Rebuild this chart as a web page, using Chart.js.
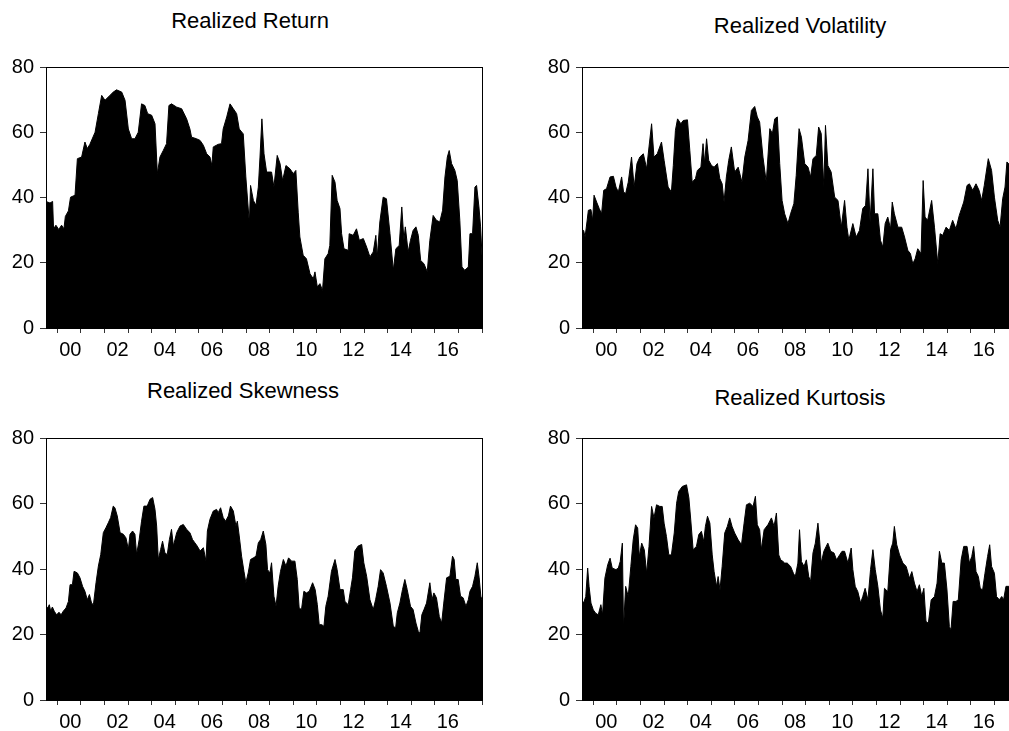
<!DOCTYPE html>
<html>
<head>
<meta charset="utf-8">
<script src="https://cdn.jsdelivr.net/npm/chart.js@4.4.1/dist/chart.umd.min.js"></script>
<style>
html, body { margin: 0; padding: 0; background: #fff; overflow: hidden; }
#page { position: relative; width: 1009px; height: 731px; overflow: hidden; }
canvas { position: absolute; }
.title {
    position: absolute; width: 400px; margin-left: -200px; text-align: center;
    font: 22px/22px "Liberation Sans", Arial, sans-serif; color: #000; white-space: nowrap;
}
</style>
</head>
<body>
<div id="page">
    <div class="title" style="left:250px;top:10px">Realized Return</div>
    <div class="title" style="left:800px;top:15px">Realized Volatility</div>
    <div class="title" style="left:243px;top:380px">Realized Skewness</div>
    <div class="title" style="left:800px;top:387px">Realized Kurtosis</div>
    <canvas id="chartReturn" width="500" height="330" style="left:0;top:40px"></canvas>
    <canvas id="chartVol" width="540" height="330" style="left:505px;top:40px"></canvas>
    <canvas id="chartSkew" width="500" height="330" style="left:0;top:411px"></canvas>
    <canvas id="chartKurt" width="540" height="330" style="left:505px;top:411px"></canvas>
</div>
<script>
// x axis: decimal years, ticks at the start of each year, labels on even years
const tickYears = [2000, 2001, 2002, 2003, 2004, 2005, 2006, 2007, 2008, 2009, 2010, 2011, 2012, 2013, 2014, 2015, 2016, 2017, 2018];
const tickLabels = ['00', '', '02', '', '04', '', '06', '', '08', '', '10', '', '12', '', '14', '', '16', '', ''];
const yTicks = [0, 20, 40, 60, 80];

const returnYears = [1999.52,1999.69,1999.80,1999.84,1999.94,2000.06,2000.18,2000.28,2000.34,2000.47,
    2000.56,2000.75,2000.85,2001.03,2001.17,2001.27,2001.38,2001.60,2001.74,2001.88,
    2002.02,2002.23,2002.37,2002.51,2002.73,2002.87,2003.01,2003.15,2003.29,2003.43,
    2003.57,2003.71,2003.83,2004.00,2004.14,2004.24,2004.35,2004.49,2004.63,2004.73,
    2004.84,2005.06,2005.27,2005.48,2005.62,2005.69,2005.90,2006.05,2006.19,2006.33,
    2006.47,2006.55,2006.61,2006.82,2006.96,2007.03,2007.18,2007.32,2007.46,2007.60,
    2007.71,2007.88,2007.99,2008.14,2008.19,2008.31,2008.42,2008.52,2008.59,2008.67,
    2008.76,2008.87,2009.08,2009.18,2009.32,2009.44,2009.55,2009.69,2009.86,2010.00,
    2010.11,2010.21,2010.28,2010.42,2010.56,2010.71,2010.85,2010.92,2011.02,2011.13,
    2011.24,2011.34,2011.48,2011.55,2011.65,2011.77,2011.86,2011.98,2012.05,2012.15,
    2012.33,2012.37,2012.54,2012.68,2012.80,2012.97,2013.11,2013.25,2013.39,2013.50,
    2013.56,2013.67,2013.81,2013.95,2014.10,2014.24,2014.35,2014.49,2014.60,2014.69,
    2014.75,2014.87,2014.97,2015.08,2015.20,2015.30,2015.40,2015.54,2015.68,2015.79,
    2015.93,2016.07,2016.21,2016.33,2016.43,2016.53,2016.61,2016.71,2016.85,2016.95,
    2017.06,2017.15,2017.27,2017.42,2017.49,2017.60,2017.70,2017.77,2017.87,2017.94,
    2018.00];
const returnValues = [38.8,38.3,38.8,30.4,31.5,30.2,31.5,30.4,34.2,35.9,
    40.1,40.7,51.9,52.4,57.0,55.0,56.3,60.0,65.7,71.3,
    69.8,71.3,72.3,73.0,72.3,69.8,61.0,58.0,58.0,60.0,
    68.7,68.2,65.7,65.2,62.6,47.3,52.4,54.4,56.5,68.2,
    68.7,67.7,67.2,64.1,61.0,58.5,58.0,57.5,56.0,53.4,
    52.4,49.8,55.5,56.3,56.5,61.0,64.7,68.7,67.2,65.7,
    61.0,59.5,46.3,32.0,43.7,39.1,37.6,43.2,52.4,64.1,
    53.4,47.8,47.8,43.2,52.9,50.4,45.2,49.8,48.8,47.3,
    48.3,35.5,27.9,22.3,21.2,16.6,15.1,17.2,12.6,13.6,
    11.5,21.2,22.8,25.3,46.8,44.7,39.1,36.6,28.9,24.3,
    23.8,28.9,28.4,30.4,26.9,27.4,24.8,21.8,23.3,28.4,
    21.8,32.5,40.1,39.6,28.9,17.7,24.3,25.3,37.1,26.9,
    31.0,23.3,26.9,29.9,31.0,28.4,20.7,19.7,17.2,26.9,
    34.5,33.0,32.5,36.1,46.3,52.4,54.4,50.4,48.3,45.2,
    33.0,18.7,17.7,18.7,28.9,28.9,43.2,43.7,37.1,31.0,
    22.3];

const volYears = [1999.51,1999.59,1999.65,1999.73,1999.79,1999.90,1999.97,2000.03,2000.14,2000.25,
    2000.35,2000.44,2000.56,2000.71,2000.85,2000.96,2001.06,2001.20,2001.28,2001.37,
    2001.48,2001.62,2001.73,2001.85,2001.97,2002.12,2002.26,2002.36,2002.47,2002.57,
    2002.71,2002.89,2003.00,2003.17,2003.31,2003.39,2003.48,2003.57,2003.71,2003.81,
    2003.99,2004.09,2004.19,2004.33,2004.41,2004.56,2004.65,2004.72,2004.80,2004.89,
    2005.01,2005.12,2005.26,2005.36,2005.46,2005.54,2005.64,2005.74,2005.85,2005.99,
    2006.14,2006.30,2006.42,2006.56,2006.70,2006.84,2006.95,2007.05,2007.19,2007.33,
    2007.48,2007.59,2007.69,2007.80,2007.90,2008.00,2008.11,2008.25,2008.36,2008.50,
    2008.60,2008.72,2008.82,2008.96,2009.10,2009.21,2009.31,2009.45,2009.55,2009.66,
    2009.77,2009.84,2009.94,2010.08,2010.23,2010.37,2010.51,2010.65,2010.75,2010.83,
    2011.00,2011.14,2011.28,2011.42,2011.54,2011.64,2011.73,2011.85,2011.92,2012.06,
    2012.17,2012.27,2012.37,2012.48,2012.60,2012.67,2012.76,2012.91,2013.07,2013.19,
    2013.33,2013.44,2013.54,2013.64,2013.75,2013.89,2013.98,2014.06,2014.17,2014.34,
    2014.46,2014.60,2014.70,2014.81,2014.95,2015.09,2015.23,2015.37,2015.51,2015.70,
    2015.84,2015.94,2016.08,2016.22,2016.35,2016.46,2016.57,2016.74,2016.88,2017.00,
    2017.14,2017.24,2017.35,2017.45,2017.53,2017.59,2017.65];
const volValues = [29.9,29.9,27.9,32.5,36.1,36.3,33.0,40.7,38.6,36.6,
    35.0,42.2,42.7,46.3,46.5,43.2,41.7,46.3,41.7,41.2,
    44.7,52.4,43.2,50.4,52.4,53.4,48.8,55.5,62.6,52.4,
    53.4,57.0,51.4,43.2,41.7,49.8,60.6,64.1,62.6,63.6,
    63.8,54.4,44.7,45.8,48.3,49.3,56.5,50.4,58.0,51.4,
    49.8,49.3,50.4,45.8,44.2,38.6,46.3,51.4,55.5,47.8,
    49.3,44.7,52.4,57.5,66.7,67.9,64.7,63.1,52.4,44.7,
    61.1,59.6,64.1,64.7,50.4,39.1,35.0,32.0,35.0,38.1,
    46.8,61.1,58.5,50.4,49.3,46.3,51.9,52.9,61.6,59.6,
    43.2,62.1,49.8,47.8,40.1,39.1,30.9,39.1,30.9,26.9,
    32.0,27.9,29.9,36.6,37.6,48.8,32.5,48.8,35.0,35.0,
    26.9,24.8,32.0,34.0,30.4,38.6,35.0,30.9,30.9,27.9,
    23.8,22.8,19.7,21.2,24.3,22.8,45.2,34.0,33.0,39.1,
    30.9,19.7,28.9,28.4,30.9,29.9,33.0,30.4,34.5,38.6,
    43.7,44.2,42.2,44.2,42.2,39.1,43.7,51.9,48.3,40.1,
    33.0,30.9,39.6,43.2,50.9,50.4,50.4];

const skewYears = [1999.52,1999.59,1999.66,1999.72,1999.79,1999.87,1999.97,2000.07,2000.16,2000.25,
    2000.37,2000.47,2000.54,2000.64,2000.71,2000.85,2000.96,2001.07,2001.17,2001.27,
    2001.36,2001.45,2001.53,2001.64,2001.74,2001.84,2001.95,2002.06,2002.16,2002.26,
    2002.37,2002.44,2002.54,2002.66,2002.80,2002.91,2003.01,2003.08,2003.19,2003.29,
    2003.36,2003.47,2003.57,2003.67,2003.81,2003.93,2004.04,2004.14,2004.21,2004.28,
    2004.38,2004.46,2004.56,2004.66,2004.75,2004.84,2004.92,2005.06,2005.20,2005.34,
    2005.48,2005.62,2005.73,2005.83,2005.93,2006.05,2006.19,2006.30,2006.36,2006.47,
    2006.61,2006.75,2006.82,2006.92,2007.03,2007.13,2007.25,2007.34,2007.46,2007.57,
    2007.63,2007.71,2007.81,2007.91,2007.99,2008.09,2008.19,2008.31,2008.42,2008.52,
    2008.62,2008.73,2008.84,2008.91,2009.01,2009.08,2009.18,2009.27,2009.36,2009.46,
    2009.58,2009.69,2009.80,2009.93,2010.07,2010.17,2010.25,2010.35,2010.45,2010.56,
    2010.68,2010.82,2010.93,2011.02,2011.10,2011.21,2011.30,2011.38,2011.48,2011.62,
    2011.77,2011.86,2011.98,2012.12,2012.19,2012.33,2012.43,2012.51,2012.61,2012.75,
    2012.90,2012.99,2013.11,2013.25,2013.39,2013.49,2013.60,2013.70,2013.81,2013.95,
    2014.10,2014.24,2014.34,2014.41,2014.52,2014.63,2014.73,2014.83,2014.97,2015.08,
    2015.20,2015.30,2015.37,2015.45,2015.54,2015.65,2015.79,2015.88,2015.96,2016.07,
    2016.19,2016.29,2016.38,2016.50,2016.64,2016.75,2016.82,2016.89,2016.99,2017.09,
    2017.20,2017.32,2017.42,2017.49,2017.60,2017.70,2017.80,2017.88,2017.95,2018.00];
const skewValues = [28.6,28.1,29.1,27.1,28.4,27.1,26.0,26.8,26.0,27.1,
    28.1,30.1,35.2,35.2,39.3,38.8,37.3,34.7,33.2,30.6,
    32.2,29.6,29.1,35.8,40.9,44.4,51.1,52.6,54.1,55.7,
    59.2,58.7,56.2,51.1,50.6,49.5,46.0,50.6,51.6,50.6,
    44.4,49.0,54.6,59.2,59.2,61.3,61.8,58.2,53.1,42.9,
    46.0,48.5,44.9,44.4,49.0,52.1,47.0,51.1,53.1,53.6,
    52.1,51.1,49.0,48.0,47.0,45.5,46.5,42.4,51.6,55.2,
    57.7,58.2,57.2,58.7,55.7,54.6,56.2,59.2,57.7,53.1,
    54.6,50.1,43.9,39.3,35.8,38.8,42.9,43.4,43.9,48.0,
    49.0,51.6,47.5,39.8,38.8,41.9,31.7,28.6,34.7,39.3,
    42.9,40.9,43.4,42.4,42.4,36.8,28.1,27.6,33.2,32.7,
    33.2,35.8,33.7,29.1,23.0,23.0,22.5,28.6,31.7,39.3,
    42.9,39.8,33.7,33.7,30.1,29.1,33.7,37.3,45.5,47.0,
    47.5,41.9,37.8,30.6,27.6,30.6,34.7,39.8,38.8,34.7,
    29.6,22.5,22.0,26.6,29.6,33.7,36.8,33.7,28.6,27.6,
    23.5,20.9,20.4,26.0,27.6,29.6,35.8,30.6,32.7,31.2,
    25.5,23.5,29.6,37.3,37.8,43.9,42.9,36.8,36.8,31.7,
    31.2,28.6,30.6,33.2,34.7,37.8,41.9,37.3,31.7,30.6];

const kurtYears = [1999.51,1999.59,1999.68,1999.76,1999.82,1999.90,2000.00,2000.10,2000.21,2000.32,
    2000.39,2000.49,2000.61,2000.71,2000.80,2000.96,2001.06,2001.14,2001.23,2001.28,
    2001.37,2001.48,2001.59,2001.69,2001.79,2001.88,2001.95,2002.05,2002.16,2002.26,
    2002.36,2002.47,2002.57,2002.68,2002.82,2002.92,2003.00,2003.10,2003.20,2003.31,
    2003.43,2003.53,2003.62,2003.77,2003.95,2004.05,2004.13,2004.23,2004.37,2004.47,
    2004.58,2004.68,2004.75,2004.84,2004.94,2005.04,2005.12,2005.22,2005.29,2005.37,
    2005.46,2005.57,2005.68,2005.78,2005.88,2005.99,2006.14,2006.28,2006.39,2006.49,
    2006.63,2006.77,2006.87,2006.95,2007.05,2007.12,2007.24,2007.40,2007.55,2007.66,
    2007.76,2007.86,2007.94,2008.04,2008.11,2008.22,2008.36,2008.48,2008.56,2008.67,
    2008.74,2008.82,2008.93,2009.03,2009.13,2009.21,2009.31,2009.41,2009.52,2009.59,
    2009.66,2009.77,2009.87,2009.94,2010.06,2010.20,2010.31,2010.44,2010.54,2010.65,
    2010.79,2010.93,2011.00,2011.10,2011.21,2011.33,2011.42,2011.52,2011.64,2011.75,
    2011.85,2011.95,2012.06,2012.17,2012.27,2012.34,2012.48,2012.60,2012.69,2012.76,
    2012.86,2012.98,2013.12,2013.26,2013.40,2013.50,2013.61,2013.72,2013.82,2013.92,
    2014.01,2014.10,2014.20,2014.32,2014.46,2014.57,2014.67,2014.77,2014.88,2014.99,
    2015.09,2015.16,2015.25,2015.37,2015.47,2015.59,2015.70,2015.84,2015.94,2016.04,
    2016.12,2016.22,2016.32,2016.40,2016.50,2016.60,2016.71,2016.80,2016.88,2017.00,
    2017.09,2017.21,2017.31,2017.39,2017.49,2017.59,2017.65];
const kurtValues = [30.6,29.6,31.6,40.3,34.7,29.6,27.5,26.5,26.0,29.1,
    26.0,37.2,41.3,43.3,40.3,39.8,40.3,42.3,47.9,21.9,
    34.7,31.6,40.8,48.9,53.5,52.5,43.8,47.9,45.9,38.7,
    46.9,59.1,55.6,59.6,59.1,59.1,54.0,49.9,44.3,44.3,
    51.0,60.1,63.7,65.2,65.7,61.7,55.0,45.9,46.9,50.5,
    51.5,48.4,53.0,56.1,54.0,44.3,39.2,34.7,37.7,33.6,
    40.8,51.0,53.0,55.6,53.0,51.0,48.9,47.4,54.0,59.6,
    60.1,59.1,62.2,53.5,52.0,45.9,52.0,53.5,55.6,53.0,
    57.1,44.3,42.8,42.3,41.8,41.8,40.8,38.7,37.7,41.8,
    52.0,42.3,40.8,42.8,37.7,36.2,44.9,47.9,54.0,48.9,
    41.8,45.4,46.9,47.9,45.4,44.9,42.8,44.3,45.4,45.4,
    41.8,46.4,39.8,34.7,33.1,29.6,31.6,34.1,30.6,39.8,
    45.9,39.8,34.7,27.5,25.0,34.1,33.1,45.9,47.9,53.0,
    47.4,44.3,41.8,40.8,37.2,39.2,35.7,33.1,35.2,31.6,
    34.1,24.0,23.4,30.6,31.6,35.7,45.4,41.8,41.8,33.6,
    22.4,21.4,30.1,30.1,30.6,42.8,46.9,46.9,41.8,43.8,
    46.9,39.2,37.7,34.1,33.6,38.7,43.8,47.4,40.8,38.7,
    31.6,30.6,31.6,30.6,34.7,34.7,34.7];

const fontFamily = '"Liberation Sans", Arial, sans-serif';

// box around the plot area, like the EViews frame
const framePlugin = {
    id: 'frame',
    afterDatasetsDraw(chart) {
        const a = chart.chartArea;
        const ctx = chart.ctx;
        ctx.save();
        ctx.strokeStyle = '#000';
        ctx.lineWidth = 1;
        ctx.strokeRect(Math.round(a.left) + 0.5, Math.round(a.top) + 0.5,
            Math.round(a.right - a.left), Math.round(a.bottom - a.top));
        ctx.restore();
    }
};

function drawPanel(id, years, values, yAxisWidth, rightPad, xAxisHeight) {
    const canvas = document.getElementById(id);
    if (!canvas || typeof Chart === 'undefined') {
        return;
    }
    new Chart(canvas, {
        type: 'line',
        data: {
            datasets: [{
                data: years.map((yr, i) => ({ x: yr, y: values[i] })),
                borderColor: '#000',
                backgroundColor: '#000',
                borderWidth: 1,
                pointRadius: 0,
                tension: 0,
                fill: 'origin'
            }]
        },
        options: {
            responsive: false,
            animation: false,
            layout: {
                padding: { top: 27, right: rightPad, left: 0, bottom: 0 }
            },
            plugins: {
                legend: { display: false },
                tooltip: { enabled: false }
            },
            scales: {
                x: {
                    type: 'linear',
                    min: 1999.52,
                    max: 2018.0,
                    afterBuildTicks: (s) => { s.ticks = tickYears.map((v) => ({ value: v })); },
                    afterFit: (s) => { s.height = xAxisHeight; },
                    ticks: {
                        autoSkip: false,
                        maxRotation: 0,
                        labelOffset: 13,
                        padding: 5,
                        color: '#000',
                        font: { family: fontFamily, size: 20 },
                        callback: (v, i) => tickLabels[i]
                    },
                    grid: { drawOnChartArea: false, tickLength: 5, color: '#333' },
                    border: { color: '#000' }
                },
                y: {
                    min: 0,
                    max: 80,
                    afterBuildTicks: (s) => { s.ticks = yTicks.map((v) => ({ value: v })); },
                    afterFit: (s) => { s.width = yAxisWidth; },
                    ticks: {
                        padding: 6,
                        color: '#000',
                        font: { family: fontFamily, size: 20 }
                    },
                    grid: { drawOnChartArea: false, tickLength: 6, color: '#333' },
                    border: { color: '#333' }
                }
            }
        },
        plugins: [framePlugin]
    });
}

drawPanel('chartReturn', returnYears, returnValues, 46, 18, 42);
drawPanel('chartVol', volYears, volValues, 77, 27, 42);
drawPanel('chartSkew', skewYears, skewValues, 46, 18, 41);
drawPanel('chartKurt', kurtYears, kurtValues, 77, 27, 41);
</script>
</body>
</html>
